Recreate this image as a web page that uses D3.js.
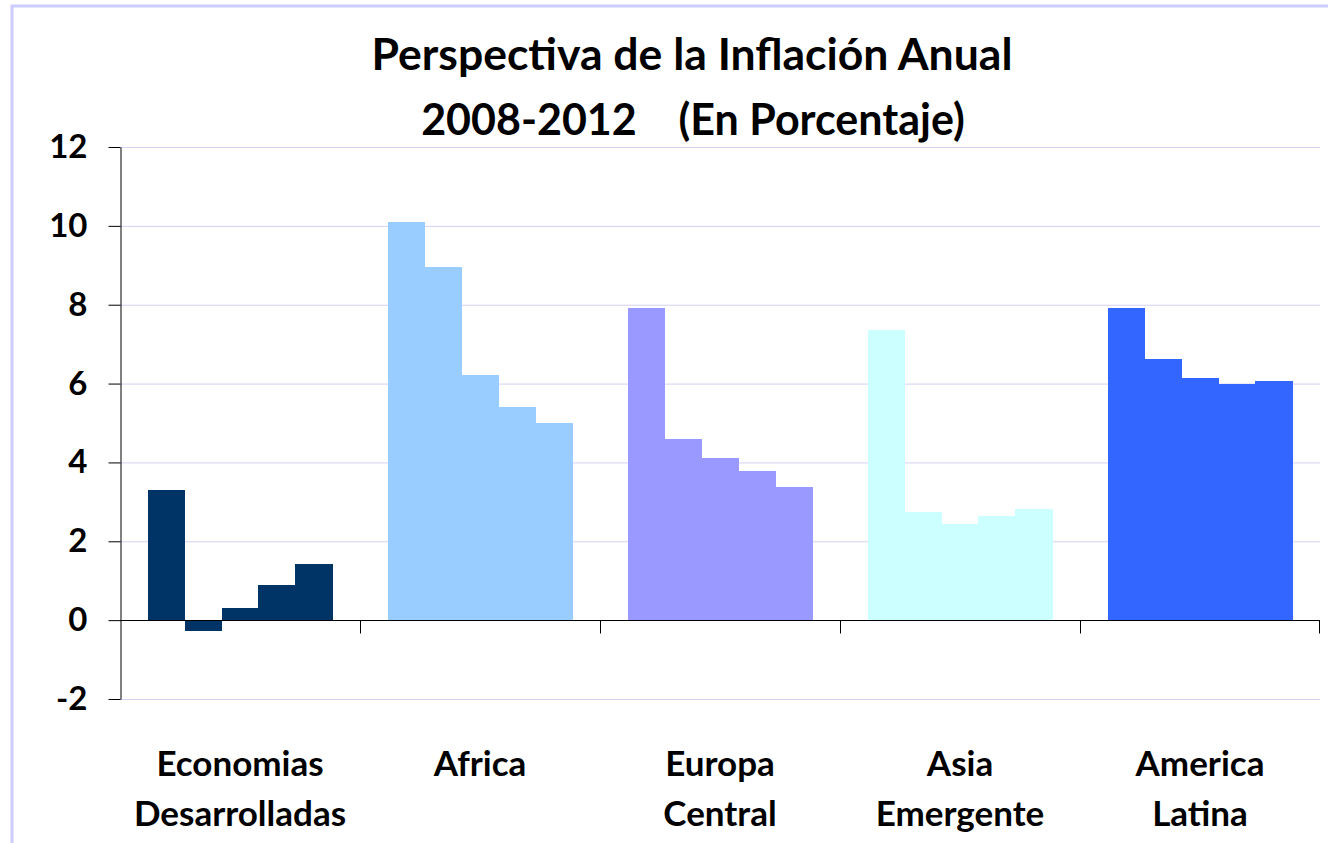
<!DOCTYPE html>
<html lang="es">
<head>
    <meta charset="UTF-8" />
    <title>Perspectiva de la Inflación Anual</title>
    <script src="https://d3js.org/d3.v7.min.js"></script>
    <style>
        body { margin: 0; background: #fff; }
        svg { display: block; font-family: Lato, "Open Sans", sans-serif; font-weight: bold; }
    </style>
</head>
<body>
    <div id="container"></div>

    <script>
        // regiones y años
        const categories = ["Economias|Desarrolladas", "Africa", "Europa|Central", "Asia|Emergente", "America|Latina"]
        const years = ["2008", "2009", "2010", "2011", "2012"]

        // inflación anual por región (%)
        const economias = [3.3, -0.27, 0.32, 0.9, 1.43]
        const africa = [10.1, 8.96, 6.22, 5.41, 5.01]
        const europa = [7.92, 4.6, 4.12, 3.79, 3.38]
        const asia = [7.36, 2.75, 2.43, 2.65, 2.82]
        const america = [7.92, 6.63, 6.15, 6.0, 6.07]

        const colors = ["#003366", "#99CCFF", "#9999FF", "#CCFFFF", "#3366FF"]
        const yTicks = [-2, 0, 2, 4, 6, 8, 10, 12]

        const series = [economias, africa, europa, asia, america]

        const width = 1328
        const height = 843
        const margin = ({ top: 147, right: 8, bottom: 144, left: 120 })

        const svg = d3.select("#container")
            .append("svg")
            .attr("width", width)
            .attr("height", height)

        // marco
        svg.append("rect")
            .attr("x", 12)
            .attr("y", 6)
            .attr("width", width + 20)
            .attr("height", height + 20)
            .attr("fill", "none")
            .attr("stroke", "#ccccff")
            .attr("stroke-width", 3)

        const x0 = d3.scaleBand()
            .domain(d3.range(categories.length))
            .range([margin.left, width - margin.right])

        const x1 = d3.scaleBand()
            .domain(years)
            .range([0, x0.bandwidth()])
            .paddingInner(0)
            .paddingOuter(0.75)

        const y = d3.scaleLinear()
            .domain([-2, 12])
            .range([height - margin.bottom, margin.top])

        // grid
        svg.append("g")
            .selectAll("line")
            .data(yTicks)
            .join("line")
            .attr("x1", margin.left)
            .attr("x2", width - margin.right)
            .attr("y1", d => y(d) + 0.5)
            .attr("y2", d => y(d) + 0.5)
            .attr("stroke", "#d4d0f4")
            .attr("stroke-width", 1)

        // barras
        series.forEach((values, i) => {
            svg.append("g")
                .attr("shape-rendering", "crispEdges")
                .selectAll("rect")
                .data(values)
                .join("rect")
                .attr("x", (d, j) => x0(i) + x1(years[j]))
                .attr("width", x1.bandwidth() + 0.5)
                .attr("y", d => y(Math.max(0, d)))
                .attr("height", d => Math.abs(y(d) - y(0)))
                .attr("fill", colors[i])
        })

        // eje y
        svg.append("g")
            .attr("transform", `translate(${margin.left + 0.5},0)`)
            .call(d3.axisLeft(y).tickValues(yTicks).tickFormat(d => String(d))
                .tickSize(12).tickPadding(21).tickSizeOuter(0))
            .call(g => g.selectAll("line, path").attr("stroke", "#000"))
            .call(g => g.selectAll("text")
                .attr("font-size", 33)
                .attr("font-family", "Lato, sans-serif")
                .attr("font-weight", "bold")
                .attr("fill", "#000"))

        // eje x en cero
        const xAxis = svg.append("g")
            .attr("transform", `translate(0,${Math.round(y(0)) + 0.5})`)

        xAxis.append("line")
            .attr("x1", margin.left)
            .attr("x2", width - margin.right)
            .attr("stroke", "#000")

        xAxis.selectAll(".tick")
            .data(d3.range(1, categories.length + 1))
            .join("line")
            .attr("x1", d => d < categories.length ? x0(d) + 0.5 : x0(d - 1) + x0.bandwidth() - 0.5)
            .attr("x2", d => d < categories.length ? x0(d) + 0.5 : x0(d - 1) + x0.bandwidth() - 0.5)
            .attr("y1", 0)
            .attr("y2", 13)
            .attr("stroke", "#000")

        // etiquetas de categorías
        const labels = svg.append("g")
            .selectAll("text")
            .data(categories)
            .join("text")
            .attr("x", (d, i) => x0(i) + x0.bandwidth() / 2)
            .attr("y", 776)
            .attr("text-anchor", "middle")
            .attr("font-size", 35)
            .attr("fill", "#000")

        labels.selectAll("tspan")
            .data(d => d.split("|"))
            .join("tspan")
            .attr("x", function () { return this.parentNode.getAttribute("x") })
            .attr("dy", (d, i) => i === 0 ? 0 : 50)
            .text(d => d)

        // título
        svg.append("text")
            .attr("x", 692)
            .attr("y", 70)
            .attr("text-anchor", "middle")
            .attr("font-size", 44.5)
            .text("Perspectiva de la Inflación Anual")

        svg.append("text")
            .attr("x", 693)
            .attr("y", 135)
            .attr("text-anchor", "middle")
            .attr("font-size", 43)
            .attr("xml:space", "preserve")
            .style("white-space", "pre")
            .text("2008-2012    (En Porcentaje)")
    </script>
</body>
</html>
